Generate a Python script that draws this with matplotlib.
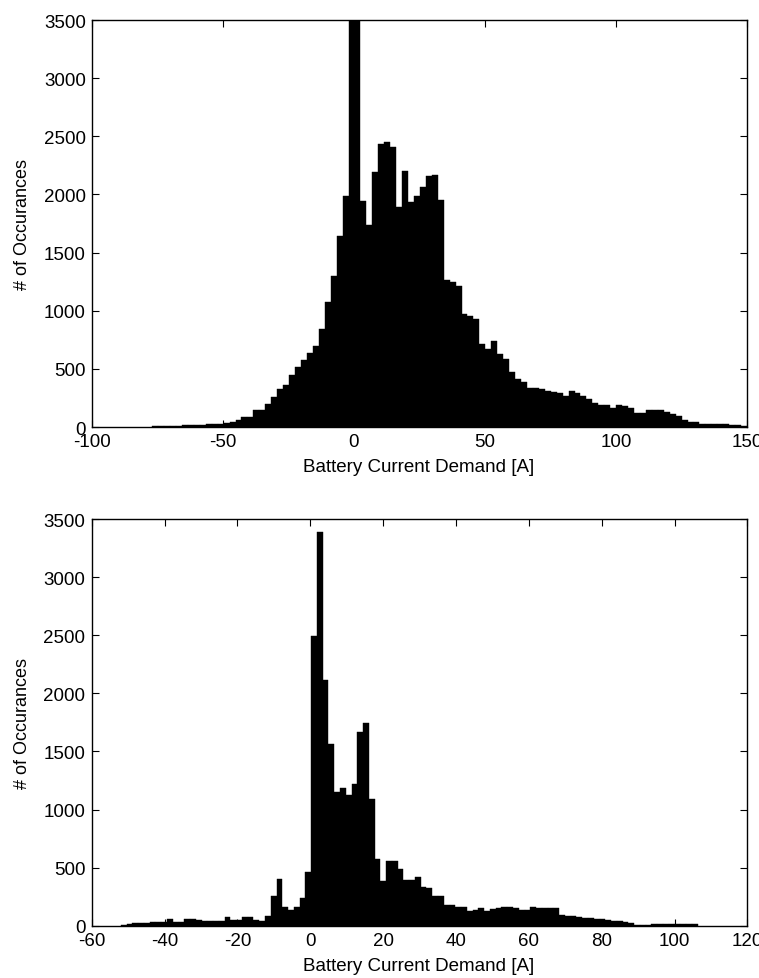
import numpy as np
import matplotlib
matplotlib.use('Agg')
import matplotlib.pyplot as plt

plt.rcParams['font.family'] = ['Liberation Sans', 'DejaVu Sans']
plt.rcParams['axes.unicode_minus'] = False

#Histograma de cima (100 classes)
top_range = (-77.0, 150.0)
top_counts = [5, 8, 10, 12, 12, 14, 16, 18, 20, 22, 23, 28, 32,
              40, 60, 86, 86, 143, 143, 200, 258, 324, 358, 444, 515, 573, 636, 693, 839,
              1074, 1303, 1647, 1990, 4300, 3800, 1948, 1741, 2197, 2434, 2449, 2406, 1890,
              2205, 1933, 1990, 2068, 2162, 2168, 1953, 1266, 1246, 1217, 974, 959, 931,
              713, 670, 741, 627, 583, 474, 417, 388, 339, 339, 325, 310, 302, 290, 267,
              310, 296, 267, 239, 204, 187, 187, 165, 187, 180, 165, 124, 124, 150, 145,
              147, 130, 112, 95, 60, 40, 45, 23, 23, 26, 29, 23, 16, 14, 10]
top_xticks = [-100, -50, 0, 50, 100, 150]
top_xlim = (-100, 150)

#Histograma de baixo (100 classes)
bot_range = (-52.0, 106.3)
bot_counts = [8, 15, 20, 23, 23, 29, 29, 29, 57, 34, 34, 57, 57, 49, 43, 43, 43, 43,
              72, 49, 49, 72, 72, 52, 43, 86,
              258, 402, 158, 138, 158, 235, 459, 2497, 3392, 2118, 1564, 1148, 1182, 1125,
              1220, 1670, 1742, 1090, 574, 387, 560, 560, 488, 396, 396, 416, 330, 321,
              258, 252, 178, 178, 158,
              158, 129, 138, 149, 129, 140, 149, 158, 158, 155, 138, 138, 158, 149, 149,
              149, 152, 90, 86, 80, 72, 70, 65, 57, 55, 50, 43, 40, 30, 20, 6, 6, 6,
              14, 14, 14, 14, 14, 14, 14, 12]
bot_xticks = [-60, -40, -20, 0, 20, 40, 60, 80, 100, 120]
bot_xlim = (-60, 120)

yticks = [0, 500, 1000, 1500, 2000, 2500, 3000, 3500]
xlabel = 'Battery Current Demand [A]'
ylabel = '# of Occurances'


def draw_hist(ax, rng, counts, xticks, xlim):
    edges = np.linspace(rng[0], rng[1], len(counts) + 1)
    ax.bar(edges[:-1], counts, width=np.diff(edges), align='edge',
           color='black', edgecolor='black', linewidth=0.3)
    ax.set_xlim(*xlim)
    ax.set_ylim(0, 3500)
    ax.set_xticks(xticks)
    ax.set_yticks(yticks)
    ax.tick_params(direction='in', top=True, right=True, length=5,
                   labelsize=13.5, pad=4.5)
    ax.set_xlabel(xlabel, fontsize=13.5)
    ax.set_ylabel(ylabel, fontsize=13)
    ax.xaxis.set_label_coords(0.499, -0.076)
    ax.yaxis.set_label_coords(-0.093, 0.5)
    for s in ax.spines.values():
        s.set_linewidth(1.0)


fig = plt.figure(figsize=(7.59, 9.79), dpi=100)

ax1 = fig.add_axes([0.1212, 0.5628, 0.863, 0.4157])
draw_hist(ax1, top_range, top_counts, top_xticks, top_xlim)

ax2 = fig.add_axes([0.1208, 0.0534, 0.864, 0.4154])
draw_hist(ax2, bot_range, bot_counts, bot_xticks, bot_xlim)

fig.savefig('out.png', dpi=100)
